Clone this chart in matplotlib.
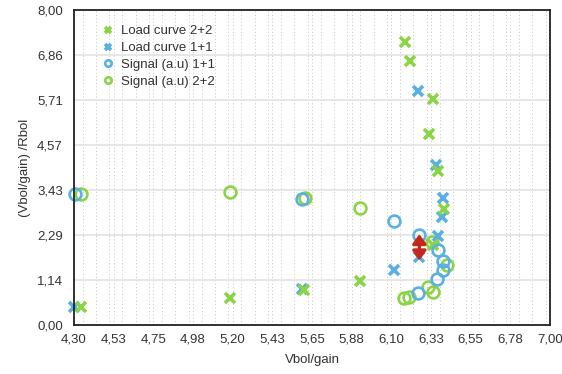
import numpy as np
import matplotlib
matplotlib.use('Agg')
import matplotlib.pyplot as plt
from matplotlib.ticker import FixedLocator, MultipleLocator

plt.rcParams['font.family'] = ['Liberation Sans', 'DejaVu Sans']

# Load curve 2+2 (green crosses)
load22_x = [4.34, 5.185, 5.606, 5.922, 6.177, 6.206, 6.338, 6.314, 6.366, 6.399, 6.338]
load22_y = [0.465, 0.68, 0.889, 1.125, 7.195, 6.70, 5.74, 4.84, 3.92, 2.94, 2.03]
# Load curve 1+1 (blue crosses)
load11_x = [4.30, 5.595, 6.115, 6.253, 6.353, 6.391, 6.386, 6.366, 6.259]
load11_y = [0.465, 0.906, 1.40, 5.94, 4.055, 3.22, 2.735, 2.26, 1.735]
# Signal (a.u) 1+1 (blue circles)
sig11_x = [4.306, 5.595, 6.115, 6.259, 6.366, 6.391, 6.395, 6.357, 6.253]
sig11_y = [3.32, 3.19, 2.65, 2.29, 1.905, 1.63, 1.40, 1.16, 0.82]
# Signal (a.u) 2+2 (green circles)
sig22_x = [4.34, 5.185, 5.612, 5.922, 6.332, 6.414, 6.306, 6.338, 6.202, 6.174]
sig22_y = [3.33, 3.385, 3.22, 2.96, 2.10, 1.52, 0.956, 0.83, 0.72, 0.69]

x_ticks = [4.30, 4.53, 4.75, 4.98, 5.20, 5.43, 5.65, 5.88, 6.10, 6.33, 6.55, 6.78, 7.00]
y_ticks = [0.00, 1.14, 2.29, 3.43, 4.57, 5.71, 6.86, 8.00]

green = '#8cd447'
blue = '#5ab0e2'

fig = plt.figure(figsize=(5.62, 3.74), dpi=100)
ax = fig.add_axes([0.1317, 0.131, 0.8469, 0.842])

h_g_o, = ax.plot(sig22_x, sig22_y, 'o', ms=8.5, mfc='none', mec=green, mew=1.9,
                 label='Signal (a.u) 2+2', clip_on=False)
h_b_x, = ax.plot(load11_x, load11_y, 'x', ms=7.5, mec=blue, mew=2.6,
                 label='Load curve 1+1', clip_on=False)
h_g_x, = ax.plot(load22_x, load22_y, 'x', ms=7.5, mec=green, mew=2.6,
                 label='Load curve 2+2', clip_on=False)
h_b_o, = ax.plot(sig11_x, sig11_y, 'o', ms=8.5, mfc='none', mec=blue, mew=1.9,
                 label='Signal (a.u) 1+1', clip_on=False)

# red double arrow
ax.annotate('', xy=(6.259, 1.64), xytext=(6.259, 2.31),
            arrowprops=dict(arrowstyle='<|-|>,head_length=0.55,head_width=0.4',
                            mutation_scale=10, color='#c4281c', lw=2.4,
                            shrinkA=0, shrinkB=0),
            zorder=5)

ax.set_xlim(4.30, 7.00)
ax.set_ylim(0, 8.00)
ax.xaxis.set_major_locator(FixedLocator(np.linspace(4.30, 7.00, 13)))
ax.yaxis.set_major_locator(FixedLocator(np.linspace(0, 8, 8)))
ax.set_xticklabels([f'{v:.2f}'.replace('.', ',') for v in x_ticks])
ax.set_yticklabels([f'{v:.2f}'.replace('.', ',') for v in y_ticks])
ax.xaxis.set_minor_locator(MultipleLocator(0.075))
ax.tick_params(axis='both', which='both', length=0, labelsize=9.5, colors='#333333')
ax.tick_params(axis='x', pad=6)
ax.tick_params(axis='y', pad=8)

ax.grid(axis='y', which='major', color='#e3e3e3', lw=1.2)
ax.grid(axis='x', which='both', color='#c4c4c4', lw=0.7, linestyle=(0, (1, 2.5)))
ax.set_axisbelow(True)

for s in ax.spines.values():
    s.set_color('#222222')
    s.set_linewidth(1.3)

ax.set_xlabel('Vbol/gain', fontsize=9.5, color='#333333', labelpad=6)
ax.set_ylabel('(Vbol/gain) /Rbol', fontsize=9.5, color='#333333', labelpad=4)

ax.legend(handles=[h_g_x, h_b_x, h_b_o, h_g_o], loc='upper left',
          bbox_to_anchor=(0.035, 0.99), frameon=False, fontsize=9.5,
          markerscale=0.55, handlelength=0.8, handletextpad=0.6,
          labelspacing=0.35, labelcolor='#333333')

plt.savefig('out.png', dpi=100)
